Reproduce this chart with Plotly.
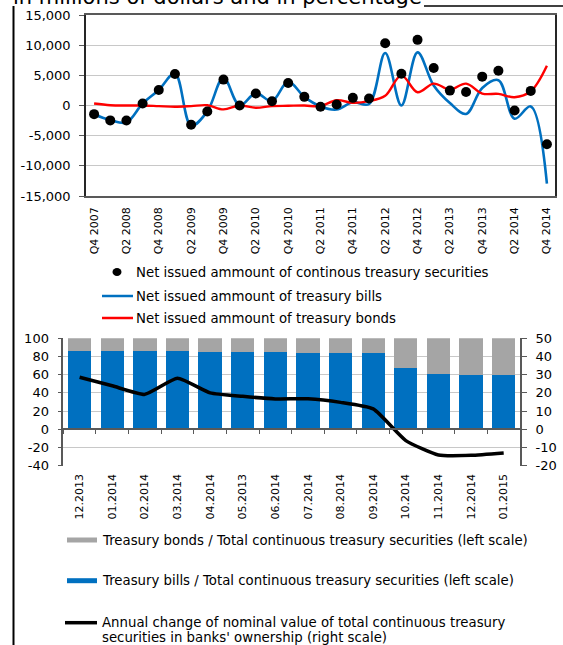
import plotly.graph_objects as go

# ---------------- data ----------------
quarters = ["Q4 2007", "Q1 2008", "Q2 2008", "Q3 2008", "Q4 2008", "Q1 2009", "Q2 2009", "Q3 2009",
            "Q4 2009", "Q1 2010", "Q2 2010", "Q3 2010", "Q4 2010", "Q1 2011", "Q2 2011", "Q3 2011",
            "Q4 2011", "Q1 2012", "Q2 2012", "Q3 2012", "Q4 2012", "Q1 2013", "Q2 2013", "Q3 2013",
            "Q4 2013", "Q1 2014", "Q2 2014", "Q3 2014", "Q4 2014"]
quarter_ticks = ["Q4 2007", "Q2 2008", "Q4 2008", "Q2 2009", "Q4 2009", "Q2 2010", "Q4 2010", "Q2 2011",
                 "Q4 2011", "Q2 2012", "Q4 2012", "Q2 2013", "Q4 2013", "Q2 2014", "Q4 2014"]
total_net = [-1430, -2470, -2500, 330, 2580, 5220, -3190, -990, 4290, 0, 1980, 710, 3740, 1430, -220,
             170, 1270, 1160, 10330, 5270, 10880, 6210, 2470, 2250, 4780, 5770, -820, 2420, -6430]
bills_net = [-1500, -2400, -2800, 330, 2580, 5300, -3350, -990, 4600, 0, 2050, 720, 3950, 1430, -150,
             -660, 550, 250, 8700, 0, 8800, 3300, 400, -1400, 2900, 4200, -2200, -150, -12950]
bonds_net = [330, 50, 0, 0, -100, -200, -100, 50, -650, 0, -380, -100, -50, 0, -100,
             880, 440, 720, 1600, 5000, 2200, 3630, 2640, 3630, 1980, 1920, 1370, 2360, 6600]
top_yvals = [15000, 10000, 5000, 0, -5000, -10000, -15000]
top_ytext = ["15,000", "10,000", "5,000", "0", "-5,000", "-10,000", "-15,000"]

months = ["12.2013", "01.2014", "02.2014", "03.2014", "04.2014", "05.2013", "06.2014", "07.2014",
          "08.2014", "09.2014", "10.2014", "11.2014", "12.2014", "01.2015"]
bills_share = [86.4, 86.4, 86.3, 85.7, 85.3, 85.0, 84.4, 83.9, 83.9, 83.9, 67.8, 60.8, 59.7, 60.0]
bonds_share = [13.6, 13.6, 13.7, 14.3, 14.7, 15.0, 15.6, 16.1, 16.1, 16.1, 32.2, 39.2, 40.3, 40.0]
annual_change = [28.6, 23.9, 19.2, 28.0, 20.0, 18.1, 16.7, 16.8, 14.8, 11.2, -6.2, -14.1, -14.3, -13.0]
left_vals = [100, 80, 60, 40, 20, 0, -20, -40]
left_text = ["100", "80", "60", "40", "20", "0", "-20", "-40"]
right_vals = [50, 40, 30, 20, 10, 0, -10, -20]
right_text = ["50", "40", "30", "20", "10", "0", "-10", "-20"]

title_text = "in millions of dollars and in percentage"
legend_top = ["Net issued ammount of continous treasury securities",
              "Net issued ammount of treasury bills",
              "Net issued ammount of treasury bonds"]
legend_bottom = ["Treasury bonds / Total continuous treasury securities (left scale)",
                 "Treasury bills / Total continuous treasury securities (left scale)",
                 "Annual change of nominal value of total continuous treasury",
                 "securities in banks' ownership (right scale)"]

# ---------------- layout helpers ----------------
W, H = 563, 645
FONT = "DejaVu Sans"
BLUE = "#0070C0"
RED = "#FF0000"
GREY = "#A5A5A5"
GRID = "#C8C8C8"
AX = "#595959"
LEG_SIZE = 13.3


def px(x):
    return x / W


def py(y):
    return 1 - y / H


# top plot box (pixels)
T_L, T_R, T_T, T_B = 86, 555, 15, 196
# bottom plot box (pixels)
B_L, B_R, B_T, B_B = 63.3, 520, 338.3, 465.7
zero_pos = py(B_B) + (py(B_T) - py(B_B)) * 40 / 140

fig = go.Figure()

# top chart
fig.add_trace(go.Scatter(x=quarters, y=bills_net, mode="lines", line=dict(color=BLUE, width=2.6, shape="spline", smoothing=1),
                         xaxis="x", yaxis="y", showlegend=False, hoverinfo="skip"))
fig.add_trace(go.Scatter(x=quarters, y=bonds_net, mode="lines", line=dict(color=RED, width=2.4, shape="spline", smoothing=1),
                         xaxis="x", yaxis="y", showlegend=False, hoverinfo="skip"))
fig.add_trace(go.Scatter(x=quarters, y=total_net, mode="markers", marker=dict(color="black", size=10),
                         xaxis="x", yaxis="y", showlegend=False, hoverinfo="skip"))

# bottom chart
fig.add_trace(go.Bar(x=months, y=bills_share, marker=dict(color=BLUE, line=dict(width=0)),
                     xaxis="x2", yaxis="y2", showlegend=False, hoverinfo="skip"))
fig.add_trace(go.Bar(x=months, y=bonds_share, marker=dict(color=GREY, line=dict(width=0)),
                     xaxis="x2", yaxis="y2", showlegend=False, hoverinfo="skip"))
fig.add_trace(go.Scatter(x=months, y=annual_change, mode="lines",
                         line=dict(color="black", width=3.5, shape="spline", smoothing=0.5),
                         xaxis="x3", yaxis="y3", showlegend=False, hoverinfo="skip"))

tickfont_y = dict(family=FONT, size=13, color="black")
tickfont_x = dict(family=FONT, size=11, color="black")

fig.update_layout(
    template="none",
    width=W, height=H, autosize=False,
    margin=dict(l=0, r=0, t=0, b=0, pad=0),
    paper_bgcolor="white", plot_bgcolor="rgba(0,0,0,0)",
    font=dict(family=FONT, size=12, color="black"),
    barmode="stack", bargap=0.285,
    showlegend=False,
    xaxis=dict(domain=[px(T_L), px(T_R)], anchor="y", type="category", categoryorder="array",
               categoryarray=quarters, range=[-0.5, len(quarters) - 0.5], automargin=False,
               tickmode="array", tickvals=quarter_ticks, ticktext=quarter_ticks,
               tickangle=-90, tickfont=tickfont_x, ticks="", showgrid=False,
               showline=True, linecolor=AX, linewidth=1.5, mirror=True, ticklabelstandoff=5,
               zeroline=False),
    yaxis=dict(domain=[py(T_B), py(T_T)], anchor="x", range=[-15000, 15000], automargin=False,
               tickmode="array", tickvals=top_yvals, ticktext=top_ytext, tickfont=tickfont_y,
               ticks="outside", ticklen=5, tickcolor=AX, showgrid=True, gridcolor=GRID, gridwidth=1,
               showline=True, linecolor="#262626", linewidth=1.5, mirror=True, zeroline=False,
               ticklabelstandoff=6),
    xaxis2=dict(domain=[px(B_L), px(B_R)], anchor="y2", type="category", categoryorder="array",
                categoryarray=months, range=[-0.5, len(months) - 0.5], automargin=False,
                tickangle=-90, tickfont=tickfont_x, ticks="", showgrid=False, showline=False,
                zeroline=False, ticklabelstandoff=5),
    yaxis2=dict(domain=[py(B_B), py(B_T)], anchor="x2", range=[-40, 100], automargin=False,
                tickmode="array", tickvals=left_vals, ticktext=left_text, tickfont=tickfont_y,
                ticks="outside", ticklen=4, tickcolor=AX, showgrid=True, gridcolor=GRID, gridwidth=1,
                showline=True, linecolor=AX, linewidth=1.5, zeroline=False, ticklabelstandoff=6),
    xaxis3=dict(domain=[px(B_L), px(B_R)], anchor="free", position=zero_pos, overlaying="x2",
                type="category", categoryorder="array", categoryarray=months, automargin=False,
                range=[-0.5, len(months) - 0.5], showticklabels=False, ticks="outside",
                tickson="boundaries", ticklen=4, tickcolor=AX, showline=True, linecolor=AX,
                linewidth=1.5, showgrid=False, zeroline=False),
    yaxis3=dict(domain=[py(B_B), py(B_T)], anchor="x2", overlaying="y2", side="right", range=[-20, 50],
                automargin=False,
                tickmode="array", tickvals=right_vals, ticktext=right_text, tickfont=tickfont_y,
                ticks="outside", ticklen=5, tickcolor=AX, showgrid=False, showline=True,
                linecolor=AX, linewidth=2, zeroline=False, ticklabelstandoff=6),
)

annotations = []
shapes = []

# partially visible title and frame
annotations.append(dict(text=title_text, xref="paper", yref="paper", x=px(11), y=py(-3.5),
                        xanchor="left", yanchor="middle", showarrow=False,
                        font=dict(family=FONT, size=21, color="black")))
shapes.append(dict(type="line", xref="paper", yref="paper", x0=px(13.5), x1=px(13.5), y0=py(6), y1=py(H + 2),
                   line=dict(color="black", width=2)))
shapes.append(dict(type="line", xref="paper", yref="paper", x0=px(424), x1=px(W + 2), y0=py(6), y1=py(6),
                   line=dict(color="black", width=1.5)))

# top legend
leg_y = [272, 296, 318]
for i, txt in enumerate(legend_top):
    annotations.append(dict(text=txt, xref="paper", yref="paper", x=px(133.5), y=py(leg_y[i]),
                            xanchor="left", yanchor="middle", showarrow=False,
                            font=dict(family=FONT, size=LEG_SIZE, color="black")))
shapes.append(dict(type="circle", xref="paper", yref="paper", x0=px(112.5), x1=px(121.5),
                   y0=py(276), y1=py(268), fillcolor="black", line=dict(width=0)))
shapes.append(dict(type="line", xref="paper", yref="paper", x0=px(102), x1=px(133), y0=py(296), y1=py(296),
                   line=dict(color=BLUE, width=2.5)))
shapes.append(dict(type="line", xref="paper", yref="paper", x0=px(102), x1=px(133), y0=py(318), y1=py(318),
                   line=dict(color=RED, width=2.5)))

# bottom legend
bot_y = [540, 580.7, 622.7, 637]
for i, txt in enumerate(legend_bottom):
    annotations.append(dict(text=txt, xref="paper", yref="paper", x=px(99.5), y=py(bot_y[i]),
                            xanchor="left", yanchor="middle", showarrow=False,
                            font=dict(family=FONT, size=LEG_SIZE, color="black")))
shapes.append(dict(type="rect", xref="paper", yref="paper", x0=px(67), x1=px(97), y0=py(542.5), y1=py(537.5),
                   fillcolor=GREY, line=dict(width=0)))
shapes.append(dict(type="rect", xref="paper", yref="paper", x0=px(67), x1=px(97), y0=py(583.2), y1=py(578.2),
                   fillcolor=BLUE, line=dict(width=0)))
shapes.append(dict(type="line", xref="paper", yref="paper", x0=px(65), x1=px(97), y0=py(622.7), y1=py(622.7),
                   line=dict(color="black", width=3.5)))

fig.update_layout(annotations=annotations, shapes=shapes)

fig.write_html("out.html", config={"displayModeBar": False},
               post_script="document.body.style.margin='0px';document.body.style.overflow='hidden';")
